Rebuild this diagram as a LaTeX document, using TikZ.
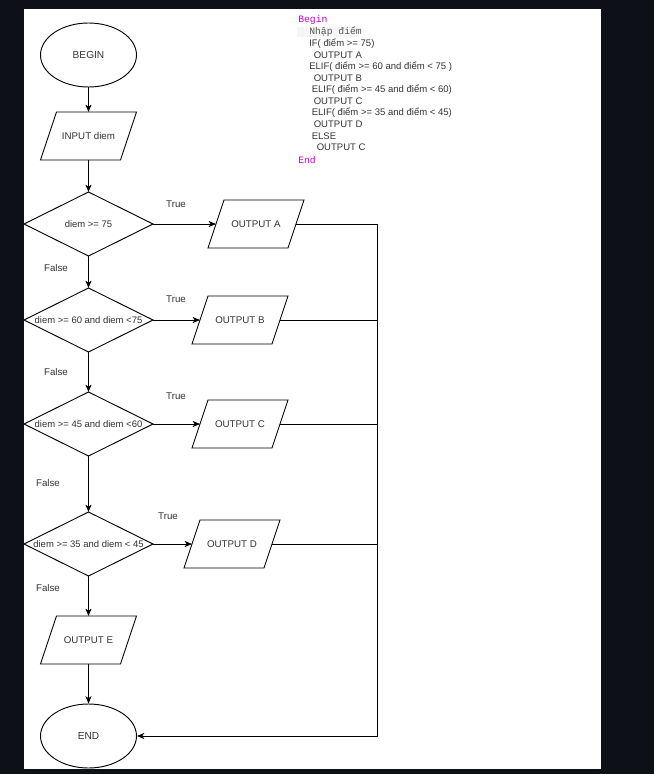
\documentclass[tikz,border=0pt]{standalone}
\usepackage{fontspec}
\setmainfont{Liberation Sans}
\newfontfamily\codemono{Liberation Mono}
\usetikzlibrary{arrows.meta,shapes.geometric}
\definecolor{bgdark}{HTML}{0D1117}
\definecolor{kwpurple}{HTML}{C000C8}
\definecolor{codegray}{HTML}{555555}
\definecolor{txtgray}{HTML}{333333}
\definecolor{hlgray}{HTML}{F6F6F6}
\tikzset{
  px/.style={x=0.75pt,y=-0.75pt},
  conn/.style={draw=black,line width=0.7pt,-{Stealth[length=5.5pt,width=4.5pt,inset=1.5pt]}},
  plain/.style={draw=black,line width=0.7pt},
  term/.style={ellipse,draw=black,line width=0.7pt,minimum width=72pt,minimum height=48pt,inner sep=0pt,font=\fontsize{7.6}{9}\selectfont,text=txtgray},
  dbox/.style={rectangle,minimum width=96.75pt,minimum height=48pt,inner sep=0pt,outer sep=0pt,font=\fontsize{7.1}{8.5}\selectfont,text=txtgray},
  pbox/.style={rectangle,minimum width=72pt,minimum height=36pt,inner sep=0pt,outer sep=0pt,font=\fontsize{7.3}{8.8}\selectfont,text=txtgray},
  lbl/.style={font=\fontsize{7.3}{8.8}\selectfont,text=txtgray,inner sep=0pt},
  code/.style={font=\fontsize{7.15}{8.6}\selectfont,text=txtgray,anchor=west,inner sep=0pt},
  kw/.style={font=\codemono\fontsize{7.3}{8.8}\selectfont,text=kwpurple,anchor=west,inner sep=0pt},
}
\newcommand{\mkpgram}[3]{%
  \node[pbox] (#1) at (#2) {#3};
  \draw[plain] ([xshift=12pt]#1.north west) -- (#1.north east) -- ([xshift=-12pt]#1.south east) -- (#1.south west) -- cycle;
  \coordinate (#1-l) at ([xshift=6pt]#1.west);
  \coordinate (#1-r) at ([xshift=-6pt]#1.east);
  \coordinate (#1-t) at (#1.north);
  \coordinate (#1-b) at (#1.south);
}
\newcommand{\mkdiam}[3]{%
  \node[dbox] (#1) at (#2) {#3};
  \draw[plain] (#1.north) -- (#1.east) -- (#1.south) -- (#1.west) -- cycle;
}
\begin{document}
\begin{tikzpicture}[px]
\fill[bgdark] (0,0) rectangle (654,774);
\fill[white] (24,9) rectangle (601,769);
\useasboundingbox (0,0) rectangle (654,774);

% code listing
\fill[hlgray] (297,27) rectangle (359,37);
\node[kw] (cBegin) at (298,20) {Begin};
\node[code,font=\codemono\fontsize{7.3}{8.8}\selectfont,text=codegray] (c1) at (309,32) {Nhập điểm};
\node[code] (c2) at (309,44) {IF( điểm >= 75)};
\node[code] (c3) at (313.5,55.5) {OUTPUT A};
\node[code] (c4) at (309,67) {ELIF( điểm >= 60 and điểm < 75 )};
\node[code] (c5) at (313.5,78.5) {OUTPUT B};
\node[code] (c6) at (311.5,90) {ELIF( điểm >= 45 and điểm < 60)};
\node[code] (c7) at (313.5,101.5) {OUTPUT C};
\node[code] (c8) at (311.5,113) {ELIF( điểm >= 35 and điểm < 45)};
\node[code] (c9) at (313.5,124.5) {OUTPUT D};
\node[code] (c10) at (311.5,136) {ELSE};
\node[code] (c11) at (316.5,147.5) {OUTPUT C};
\node[kw] (cEnd) at (298,160) {End};

% flowchart
\node[term] (begin) at (88.5,55) {BEGIN};
\mkpgram{inp}{88.5,136}{INPUT diem}
\mkdiam{d1}{88.5,224}{diem >= 75}
\mkdiam{d2}{88.5,320}{diem >= 60 and diem <75}
\mkdiam{d3}{88.5,424}{diem >= 45 and diem <60}
\mkdiam{d4}{88.5,544}{diem >= 35 and diem < 45}
\mkpgram{oA}{256,224}{OUTPUT A}
\mkpgram{oB}{240,320}{OUTPUT B}
\mkpgram{oC}{240,424}{OUTPUT C}
\mkpgram{oD}{232,544}{OUTPUT D}
\mkpgram{oE}{88.5,640}{OUTPUT E}
\node[term] (end) at (88.5,736) {END};

\coordinate (rA) at (377,224);
\coordinate (rB) at (377,320);
\coordinate (rC) at (377,424);
\coordinate (rD) at (377,544);
\coordinate (rEnd) at (377,736);

\draw[conn] (begin.south) -- (inp-t);
\draw[conn] (inp-b) -- (d1.north);
\draw[conn] (d1.south) -- (d2.north);
\draw[conn] (d2.south) -- (d3.north);
\draw[conn] (d3.south) -- (d4.north);
\draw[conn] (d4.south) -- (oE-t);
\draw[conn] (oE-b) -- (end.north);

\draw[conn] (d1.east) -- (oA-l);
\draw[conn] (d2.east) -- (oB-l);
\draw[conn] (d3.east) -- (oC-l);
\draw[conn] (d4.east) -- (oD-l);

\draw[plain] (oA-r) -- (rA);
\draw[plain] (oB-r) -- (rB);
\draw[plain] (oC-r) -- (rC);
\draw[plain] (oD-r) -- (rD);
\draw[conn] (rA) -- (rEnd) -- (end.east);

\node[lbl] (t1) at (176,204) {True};
\node[lbl] (t2) at (176,299.5) {True};
\node[lbl] (t3) at (176,396) {True};
\node[lbl] (t4) at (168,516) {True};
\node[lbl] (f1) at (56,268) {False};
\node[lbl] (f2) at (56,372) {False};
\node[lbl] (f3) at (48,483.5) {False};
\node[lbl] (f4) at (48,588) {False};
\end{tikzpicture}
\end{document}
